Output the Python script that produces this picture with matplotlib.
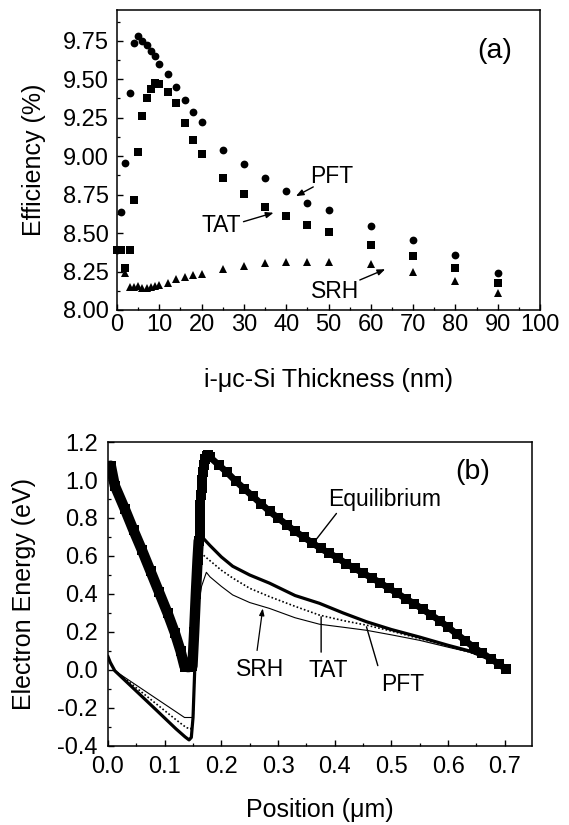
import matplotlib
matplotlib.use("Agg")
import matplotlib.pyplot as plt
from matplotlib.ticker import MultipleLocator, FormatStrFormatter

plt.rcParams['font.family'] = ['Liberation Sans', 'DejaVu Sans']
plt.rcParams['axes.unicode_minus'] = False

# ---------------- Panel (a) data ----------------
pft_x = [0, 1, 2, 3, 4, 5, 6, 7, 8, 9, 10, 12, 14, 16, 18, 20, 25, 30, 35, 40, 45, 50, 60, 70, 80, 90]
pft_y = [8.39, 8.635, 8.957, 9.41, 9.735, 9.78, 9.75, 9.72, 9.685, 9.65, 9.60, 9.537, 9.45, 9.365,
         9.287, 9.22, 9.043, 8.952, 8.857, 8.772, 8.698, 8.652, 8.543, 8.452, 8.359, 8.239]

tat_x = [0, 1, 2, 3, 4, 5, 6, 7, 8, 9, 10, 12, 14, 16, 18, 20, 25, 30, 35, 40, 45, 50, 60, 70, 80, 90]
tat_y = [8.39, 8.39, 8.27, 8.39, 8.717, 9.03, 9.26, 9.38, 9.435, 9.478, 9.467, 9.42, 9.343, 9.217,
         9.104, 9.017, 8.859, 8.757, 8.672, 8.609, 8.55, 8.507, 8.424, 8.354, 8.272, 8.174]

srh_x = [0, 2, 3, 4, 5, 6, 7, 8, 9, 10, 12, 14, 16, 18, 20, 25, 30, 35, 40, 45, 50, 60, 70, 80, 90]
srh_y = [8.39, 8.24, 8.15, 8.15, 8.157, 8.145, 8.145, 8.15, 8.157, 8.163, 8.178, 8.20, 8.213, 8.228,
         8.235, 8.265, 8.283, 8.304, 8.31, 8.31, 8.31, 8.298, 8.25, 8.189, 8.109]

a_xticks = [0, 10, 20, 30, 40, 50, 60, 70, 80, 90, 100]
a_yticks = [8.00, 8.25, 8.50, 8.75, 9.00, 9.25, 9.50, 9.75]

# ---------------- Panel (b) data ----------------
# equilibrium: densely-meshed part (appears solid)
eq_solid_x = [0.005, 0.012, 0.030, 0.045, 0.060, 0.075, 0.090, 0.105, 0.118, 0.128, 0.135,
              0.142, 0.149, 0.152, 0.155, 0.158, 0.160]
eq_solid_y = [1.075, 0.97, 0.845, 0.735, 0.63, 0.52, 0.41, 0.30, 0.195, 0.10, 0.018,
              0.015, 0.02, 0.20, 0.40, 0.58, 0.68]
# equilibrium: steep rise (separate square markers)
eq_rise_x = [0.1615, 0.162, 0.1625, 0.163, 0.164, 0.165, 0.166, 0.167, 0.169, 0.171, 0.174, 0.177]
eq_rise_y = [0.72, 0.77, 0.82, 0.87, 0.92, 0.96, 1.00, 1.04, 1.08, 1.11, 1.125, 1.13]
# equilibrium: long decreasing branch
eq_right_x = [0.180, 0.195, 0.210, 0.225, 0.240, 0.255, 0.270, 0.285, 0.300, 0.315, 0.330, 0.345,
              0.360, 0.375, 0.390, 0.405, 0.420, 0.435, 0.450, 0.465, 0.480, 0.495, 0.510, 0.525,
              0.540, 0.555, 0.570, 0.585, 0.600, 0.615, 0.630, 0.645, 0.660, 0.675, 0.690, 0.702]
eq_right_y = [1.12, 1.08, 1.04, 0.995, 0.955, 0.915, 0.875, 0.835, 0.80, 0.765, 0.73, 0.70,
              0.67, 0.64, 0.615, 0.59, 0.56, 0.535, 0.51, 0.485, 0.46, 0.43, 0.405, 0.375,
              0.35, 0.32, 0.29, 0.26, 0.225, 0.19, 0.155, 0.12, 0.09, 0.06, 0.03, 0.005]

bpft_x = [0.000, 0.004, 0.012, 0.040, 0.080, 0.120, 0.136, 0.143, 0.147, 0.150, 0.153, 0.157, 0.160,
          0.163, 0.166, 0.180, 0.200, 0.220, 0.250, 0.285, 0.330, 0.373, 0.415, 0.456, 0.500, 0.550,
          0.600, 0.638, 0.670, 0.700, 0.703]
bpft_y = [0.070, 0.040, -0.004, -0.083, -0.196, -0.310, -0.352, -0.368, -0.355, -0.250, 0.000, 0.350,
          0.600, 0.690, 0.700, 0.655, 0.595, 0.546, 0.500, 0.457, 0.392, 0.351, 0.300, 0.254, 0.213,
          0.173, 0.130, 0.100, 0.060, 0.010, 0.000]

btat_x = [0.000, 0.004, 0.012, 0.040, 0.080, 0.120, 0.138, 0.146, 0.150, 0.153, 0.157, 0.160, 0.164,
          0.180, 0.200, 0.220, 0.250, 0.285, 0.330, 0.373, 0.415, 0.456, 0.500, 0.550, 0.600, 0.638,
          0.670, 0.700, 0.703]
btat_y = [0.070, 0.040, -0.004, -0.070, -0.166, -0.262, -0.303, -0.310, -0.270, 0.000, 0.300, 0.520,
          0.615, 0.575, 0.525, 0.484, 0.430, 0.386, 0.335, 0.289, 0.260, 0.236, 0.205, 0.165, 0.125,
          0.094, 0.060, 0.012, 0.000]

bsrh_x = [0.000, 0.004, 0.012, 0.040, 0.080, 0.120, 0.135, 0.149, 0.152, 0.156, 0.160, 0.165, 0.1735,
          0.180, 0.200, 0.220, 0.250, 0.285, 0.330, 0.373, 0.415, 0.456, 0.500, 0.550, 0.600, 0.638,
          0.670, 0.700, 0.703]
bsrh_y = [0.070, 0.040, -0.004, -0.060, -0.140, -0.220, -0.250, -0.250, -0.100, 0.200, 0.350, 0.440,
          0.514, 0.490, 0.440, 0.395, 0.355, 0.324, 0.275, 0.241, 0.225, 0.209, 0.185, 0.156, 0.120,
          0.094, 0.060, 0.012, 0.000]

b_xticks = [0.0, 0.1, 0.2, 0.3, 0.4, 0.5, 0.6, 0.7]
b_yticks = [-0.4, -0.2, 0.0, 0.2, 0.4, 0.6, 0.8, 1.0, 1.2]

W, H = 569, 825
fig = plt.figure(figsize=(W / 100, H / 100), dpi=100)

TICK = 17
LAB = 18
ANN = 16.5


def style(ax, xpad, ypad):
    for s in ax.spines.values():
        s.set_linewidth(1.1)
        s.set_color('black')
    ax.tick_params(which='both', direction='in', top=False, right=False, labelsize=TICK, color='black')
    ax.tick_params(which='major', length=4.5, width=1.0)
    ax.tick_params(which='minor', length=2.5, width=0.9)
    ax.tick_params(axis='x', which='both', pad=xpad)
    ax.tick_params(axis='y', which='both', pad=ypad)


# ---------------- Panel (a) ----------------
axa = fig.add_axes([117 / W, 1 - 310 / H, 423 / W, 300 / H])
ms = 5.6
axa.plot(pft_x, pft_y, 'o', color='black', ms=ms, mew=0, clip_on=False, zorder=3)
axa.plot(tat_x, tat_y, 's', color='black', ms=ms * 0.95, mew=0, clip_on=False, zorder=3)
axa.plot(srh_x, srh_y, '^', color='black', ms=ms * 1.1, mew=0, clip_on=False, zorder=3)
axa.set_xlim(0, 100)
axa.set_ylim(8.0, 9.95)
axa.set_xticks(a_xticks)
axa.set_yticks(a_yticks)
axa.xaxis.set_minor_locator(MultipleLocator(5))
axa.yaxis.set_minor_locator(MultipleLocator(0.125))
axa.yaxis.set_major_formatter(FormatStrFormatter('%.2f'))
style(axa, 3.0, 6.0)
axa.set_xlabel('i-\u03bcc-Si Thickness (nm)', fontsize=LAB)
axa.xaxis.set_label_coords(0.5, -0.233)
axa.xaxis.label.set_va('center')
axa.set_ylabel('Efficiency (%)', fontsize=LAB)
axa.yaxis.set_label_coords(-0.196, 0.5)
axa.yaxis.label.set_va('center')

arr = dict(arrowstyle='-|>,head_length=0.45,head_width=0.18', color='black', lw=1.0, shrinkA=0, shrinkB=0)
axa.text(50.7, 8.867, 'PFT', fontsize=ANN, ha='center', va='center')
axa.annotate('', xy=(42.3, 8.74), xytext=(46.4, 8.80), arrowprops=arr)
axa.text(24.75, 8.55, 'TAT', fontsize=ANN, ha='center', va='center')
axa.annotate('', xy=(37.0, 8.632), xytext=(29.9, 8.574), arrowprops=arr)
axa.text(51.5, 8.119, 'SRH', fontsize=ANN, ha='center', va='center')
axa.annotate('', xy=(63.4, 8.265), xytext=(57.4, 8.195), arrowprops=arr)
axa.text(89.4, 9.684, '(a)', fontsize=20.5, ha='center', va='center')

# ---------------- Panel (b) ----------------
axb = fig.add_axes([108 / W, 1 - 746 / H, 424 / W, 304 / H])
axb.plot(eq_solid_x, eq_solid_y, '-s', color='black', lw=7.5, ms=7, mew=0,
         solid_joinstyle='round', solid_capstyle='round', zorder=4)
axb.plot(eq_rise_x, eq_rise_y, 's', color='black', ms=6.5, mew=0, zorder=4)
axb.plot(eq_right_x, eq_right_y, '-s', color='black', lw=4.8, ms=6.8, mew=0,
         solid_capstyle='butt', zorder=4)
axb.plot(bpft_x, bpft_y, '-', color='black', lw=2.3, zorder=3)
axb.plot(btat_x, btat_y, color='black', lw=1.2, linestyle=(0, (1.0, 1.3)), zorder=3)
axb.plot(bsrh_x, bsrh_y, '-', color='black', lw=0.8, zorder=3)
axb.set_xlim(0, 0.748)
axb.set_ylim(-0.4, 1.2)
axb.set_xticks(b_xticks)
axb.set_yticks(b_yticks)
axb.xaxis.set_minor_locator(MultipleLocator(0.05))
axb.yaxis.set_minor_locator(MultipleLocator(0.1))
axb.xaxis.set_major_formatter(FormatStrFormatter('%.1f'))
axb.yaxis.set_major_formatter(FormatStrFormatter('%.1f'))
style(axb, 7.5, 7.5)
axb.set_xlabel('Position (\u03bcm)', fontsize=LAB)
axb.xaxis.set_label_coords(0.5, -0.2105)
axb.xaxis.label.set_va('center')
axb.set_ylabel('Electron Energy (eV)', fontsize=LAB)
axb.yaxis.set_label_coords(-0.197, 0.5)
axb.yaxis.label.set_va('center')

line = dict(arrowstyle='-', color='black', lw=1.0, shrinkA=0, shrinkB=0)
arrb = dict(arrowstyle='-|>,head_length=0.4,head_width=0.15', color='black', lw=0.9, shrinkA=0, shrinkB=0)
axb.text(0.488, 0.90, 'Equilibrium', fontsize=ANN, ha='center', va='center')
axb.annotate('', xy=(0.3675, 0.688), xytext=(0.403, 0.824), arrowprops=line)
axb.text(0.2675, 0.005, 'SRH', fontsize=ANN, ha='center', va='center')
axb.annotate('', xy=(0.273, 0.324), xytext=(0.263, 0.103), arrowprops=arrb)
axb.text(0.388, -0.004, 'TAT', fontsize=ANN, ha='center', va='center')
axb.annotate('', xy=(0.376, 0.28), xytext=(0.376, 0.094), arrowprops=line)
axb.text(0.52, -0.075, 'PFT', fontsize=ANN, ha='center', va='center')
axb.annotate('', xy=(0.456, 0.227), xytext=(0.476, 0.023), arrowprops=line)
axb.text(0.644, 1.043, '(b)', fontsize=20.5, ha='center', va='center')

fig.savefig('out.png', dpi=100, facecolor='white')
